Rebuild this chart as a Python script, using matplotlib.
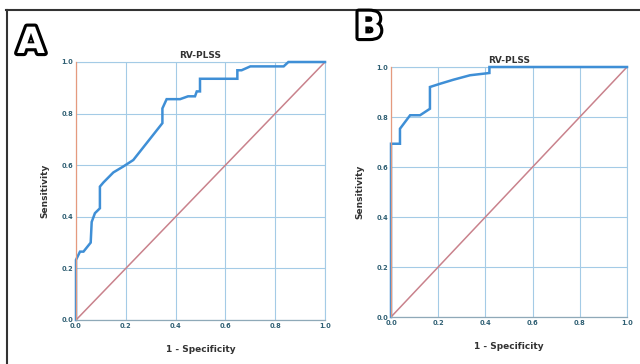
import matplotlib
matplotlib.use("Agg")
import matplotlib.pyplot as plt
import matplotlib.patheffects as pe
from matplotlib.lines import Line2D

# ROC curve A
fpr_a = [0.0, 0.0, 0.016, 0.03, 0.059, 0.063, 0.076, 0.096, 0.096, 0.11, 0.15, 0.19, 0.23,
         0.257, 0.347, 0.347, 0.364, 0.418, 0.45, 0.478, 0.485, 0.498, 0.498, 0.648, 0.648,
         0.665, 0.70, 0.834, 0.853, 1.0]
tpr_a = [0.0, 0.233, 0.265, 0.265, 0.30, 0.38, 0.414, 0.433, 0.517, 0.533, 0.572, 0.595, 0.62,
         0.653, 0.763, 0.82, 0.856, 0.856, 0.867, 0.867, 0.886, 0.886, 0.935, 0.935, 0.968,
         0.968, 0.983, 0.983, 1.0, 1.0]
# ROC curve B
fpr_b = [0.0, 0.0, 0.038, 0.038, 0.081, 0.123, 0.165, 0.165, 0.208, 0.264, 0.335, 0.417, 0.417, 1.0]
tpr_b = [0.0, 0.693, 0.693, 0.753, 0.807, 0.807, 0.833, 0.92, 0.933, 0.949, 0.967, 0.976, 1.0, 1.0]

ticks = [0.0, 0.2, 0.4, 0.6, 0.8, 1.0]
tick_labels = ["0.0", "0.2", "0.4", "0.6", "0.8", "1.0"]
title = "RV-PLSS"
xlabel = "1 - Specificity"
ylabel = "Sensitivity"
panel_letters = ["A", "B"]

fig = plt.figure(figsize=(6.4, 3.64), dpi=100)
fig.patch.set_facecolor("white")

# frame lines (top and left)
fig.add_artist(Line2D([6/640, 1.0], [1-9.5/364, 1-9.5/364], color="#333333", lw=1.5,
                      transform=fig.transFigure))
fig.add_artist(Line2D([6.5/640, 6.5/640], [0, 1-9.5/364], color="#333333", lw=1.5,
                      transform=fig.transFigure))

blue = "#3f8fd6"
diag = "#c9828c"
grid = "#a4cbe6"
tickc = "#2f5f73"

def panel(rect, fpr, tpr):
    ax = fig.add_axes(rect)
    ax.set_xlim(0, 1)
    ax.set_ylim(0, 1)
    ax.set_xticks(ticks)
    ax.set_yticks(ticks)
    ax.set_xticklabels(tick_labels)
    ax.set_yticklabels(tick_labels)
    ax.tick_params(length=0, labelsize=4.8, colors=tickc, pad=2)
    for t in ax.get_xticklabels() + ax.get_yticklabels():
        t.set_fontweight("bold")
    ax.grid(True, color=grid, lw=0.8)
    for s in ["top", "right"]:
        ax.spines[s].set_visible(False)
    ax.spines["left"].set_color("#e59a7e")
    ax.spines["bottom"].set_color("#8fa9b8")
    ax.spines["left"].set_linewidth(0.9)
    ax.spines["bottom"].set_linewidth(0.9)
    ax.plot([0, 1], [1, 1], color=grid, lw=0.8, clip_on=False)
    ax.plot([1, 1], [0, 1], color=grid, lw=0.8, clip_on=False)
    ax.plot([0, 1], [0, 1], color=diag, lw=1.1, clip_on=False)
    ax.plot(fpr, tpr, color=blue, lw=1.8, clip_on=False, solid_joinstyle="miter")
    ax.set_title(title, fontsize=6.5, fontweight="bold", color="#333333", pad=3)
    ax.set_xlabel(xlabel, fontsize=6.5, fontweight="bold", color="#333333", labelpad=12)
    ax.set_ylabel(ylabel, fontsize=6.5, fontweight="bold", color="#333333", labelpad=9)
    return ax

axA = panel([76/640, 1-320/364, 249/640, 258/364], fpr_a, tpr_a)
axB = panel([391/640, 1-317/364, 236/640, 250/364], fpr_b, tpr_b)

for letter, (x, y) in zip(panel_letters, [(31, 43), (369, 28)]):
    fig.text(x/640, 1-y/364, letter, fontsize=26, fontweight="bold", color="white",
             ha="center", va="center",
             path_effects=[pe.Stroke(linewidth=4.5, foreground="black", joinstyle="round"),
                           pe.Normal()])

fig.savefig("out.png", dpi=100)
